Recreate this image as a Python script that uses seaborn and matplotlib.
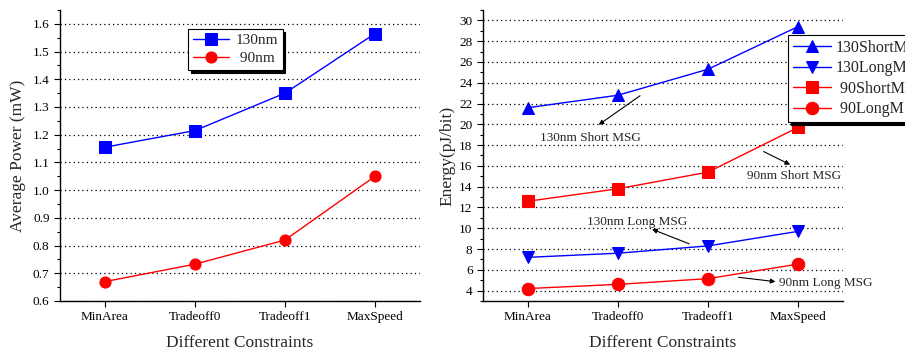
import matplotlib
matplotlib.use("Agg")
import matplotlib.pyplot as plt
import seaborn as sns
import pandas as pd
from matplotlib.ticker import MultipleLocator, FormatStrFormatter

# Veriler
constraints = ["MinArea", "Tradeoff0", "Tradeoff1", "MaxSpeed"]

power_130 = [1.155, 1.215, 1.35, 1.565]
power_90 = [0.67, 0.733, 0.82, 1.05]

energy_130_short = [21.6, 22.8, 25.3, 29.4]
energy_130_long = [7.2, 7.6, 8.3, 9.7]
energy_90_short = [12.6, 13.8, 15.4, 19.7]
energy_90_long = [4.2, 4.6, 5.15, 6.55]

sns.set_theme(style="ticks")
plt.rcParams["font.family"] = ["Liberation Serif", "DejaVu Serif"]

fig = plt.figure(figsize=(9.05, 3.52), dpi=100)
ax1 = fig.add_axes([0.0663, 0.1449, 0.3978, 0.8267])
ax2 = fig.add_axes([0.5337, 0.1449, 0.3978, 0.8267])


def style_axis(ax):
    for s in ["top", "right"]:
        ax.spines[s].set_visible(False)
    for s in ["left", "bottom"]:
        ax.spines[s].set_color("black")
        ax.spines[s].set_linewidth(1.0)
    ax.tick_params(axis="both", which="major", direction="out", length=4, width=0.8,
                   colors="black", labelsize=9.5)
    ax.tick_params(axis="y", which="minor", direction="out", length=2, width=0.8, colors="black")
    ax.tick_params(axis="x", which="minor", bottom=False)
    ax.yaxis.grid(True, which="major", linestyle=(0, (1, 2.5)), color="black", linewidth=0.9)
    ax.xaxis.grid(False)
    ax.set_axisbelow(True)
    ax.set_xlim(-0.5, 3.5)


# Grafik 1 - Ortalama güç
series1 = [
    ("130nm", power_130, "blue", "s"),
    (" 90nm", power_90, "red", "o"),
]
for name, vals, col, mk in series1:
    df = pd.DataFrame({"c": constraints, "v": vals})
    sns.lineplot(data=df, x="c", y="v", ax=ax1, color=col, marker=mk, markersize=8,
                 markeredgecolor=col, linewidth=1.0, label=name, sort=False)

style_axis(ax1)
ax1.set_ylim(0.6, 1.65)
ax1.yaxis.set_major_locator(MultipleLocator(0.1))
ax1.yaxis.set_minor_locator(MultipleLocator(0.05))
ax1.yaxis.set_major_formatter(FormatStrFormatter("%.1f"))
ax1.set_xlabel("Different Constraints", fontsize=12.5, labelpad=8)
ax1.set_ylabel("Average Power (mW)", fontsize=12.5, labelpad=5)
leg1 = ax1.legend(loc="upper left", bbox_to_anchor=(0.356, 0.935), fontsize=11,
                  frameon=True, fancybox=False, shadow={"color": "black", "alpha": 1},
                  edgecolor="black", framealpha=1, borderpad=0.3, handlelength=2.4,
                  labelspacing=0.3, handletextpad=0.4, borderaxespad=0)
leg1.get_frame().set_linewidth(0.8)

# Grafik 2 - Enerji
series2 = [
    ("130ShortMSG", energy_130_short, "blue", "^"),
    ("130LongMSG", energy_130_long, "blue", "v"),
    (" 90ShortMSG", energy_90_short, "red", "s"),
    (" 90LongMSG", energy_90_long, "red", "o"),
]
for name, vals, col, mk in series2:
    df = pd.DataFrame({"c": constraints, "v": vals})
    sns.lineplot(data=df, x="c", y="v", ax=ax2, color=col, marker=mk, markersize=9,
                 markeredgecolor=col, linewidth=1.0, label=name, sort=False)

style_axis(ax2)
ax2.set_ylim(3, 31)
ax2.yaxis.set_major_locator(MultipleLocator(2))
ax2.yaxis.set_minor_locator(MultipleLocator(1))
ax2.set_xlabel("Different Constraints", fontsize=12.5, labelpad=8)
ax2.set_ylabel("Energy(pJ/bit)", fontsize=12.5, labelpad=3)
leg2 = ax2.legend(loc="upper left", bbox_to_anchor=(0.847, 0.914), fontsize=11.5,
                  frameon=True, fancybox=False, shadow={"color": "black", "alpha": 1},
                  edgecolor="black", framealpha=1, borderpad=0.3, handlelength=2.4,
                  labelspacing=0.28, handletextpad=0.3, borderaxespad=0)
leg2.get_frame().set_linewidth(0.8)

# Açıklamalar
arrow = dict(arrowstyle="-|>", color="black", lw=0.8, mutation_scale=7)
ax2.annotate("", xy=(0.76, 19.8), xytext=(1.27, 22.9), arrowprops=arrow)
ax2.text(0.69, 18.7, "130nm Short MSG", fontsize=9.5, ha="center", va="center")
ax2.annotate("", xy=(1.35, 10.0), xytext=(1.82, 8.4), arrowprops=arrow)
ax2.text(1.21, 10.6, "130nm Long MSG", fontsize=9.5, ha="center", va="center")
ax2.annotate("", xy=(2.94, 16.0), xytext=(2.59, 17.5), arrowprops=arrow)
ax2.text(2.96, 15.0, "90nm Short MSG", fontsize=9.5, ha="center", va="center")
ax2.annotate("", xy=(2.78, 4.83), xytext=(2.31, 5.31), arrowprops=arrow)
ax2.text(3.31, 4.73, "90nm Long MSG", fontsize=9.5, ha="center", va="center", clip_on=False)

fig.savefig("out.png", dpi=100)
